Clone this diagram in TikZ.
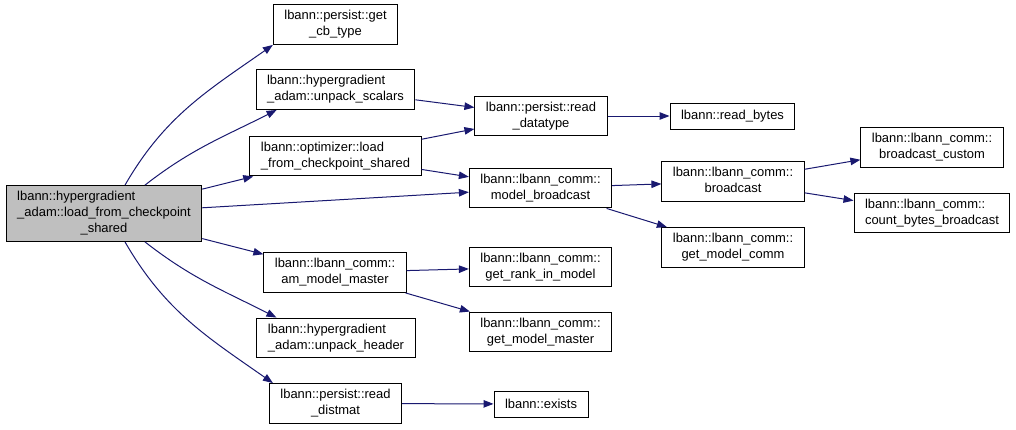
\documentclass[tikz,border=0pt]{standalone}
\usepackage{fontspec}
\setmainfont{Liberation Sans}
\usepackage{xcolor}
\usepackage{tikz}
\usetikzlibrary{arrows.meta}

\definecolor{edgeblue}{RGB}{25,25,112}
\definecolor{mainfill}{RGB}{191,191,191}
% left-aligned lines, last line centred
\newcommand{\fnlabel}[2]{\begin{tabular}{@{}l@{}}#1\\\multicolumn{1}{@{}c@{}}{#2}\end{tabular}}

\begin{document}
\begin{tikzpicture}[
    x=1bp, y=-1bp,
    fnbox/.style={draw, fill=white, line width=1bp, inner xsep=11bp, inner ysep=4bp,
                  minimum height=26bp, font=\fontsize{13}{16}\selectfont},
    mainbox/.style={fnbox, fill=mainfill},
    edge/.style={-{Triangle[length=10bp,width=7.5bp]}, draw=edgeblue, line width=1bp}
    ]
    \useasboundingbox (0,0) rectangle (1016,429);

    \node[mainbox] (main) at (104,213.5)
        {\fnlabel{lbann::hypergradient\\\_adam::load\_from\_checkpoint}{\_shared}};

    \node[fnbox] (getcb)   at (335.5,24.5) {\fnlabel{lbann::persist::get}{\_cb\_type}};
    \node[fnbox] (unpscal) at (335.5,89.5) {\fnlabel{lbann::hypergradient}{\_adam::unpack\_scalars}};
    \node[fnbox] (optload) at (335.5,156)  {\fnlabel{lbann::optimizer::load}{\_from\_checkpoint\_shared}};
    \node[fnbox] (ammaster) at (335,272.5) {\fnlabel{lbann::lbann\_comm::}{am\_model\_master}};
    \node[fnbox] (unphead) at (336,338)    {\fnlabel{lbann::hypergradient}{\_adam::unpack\_header}};
    \node[fnbox] (rdistmat) at (335.5,403.5) {\fnlabel{lbann::persist::read}{\_distmat}};

    \node[fnbox] (rdtype)  at (541,116)    {\fnlabel{lbann::persist::read}{\_datatype}};
    \node[fnbox] (mbcast)  at (540.5,188)  {\fnlabel{lbann::lbann\_comm::}{model\_broadcast}};
    \node[fnbox] (getrank) at (540.5,267)  {\fnlabel{lbann::lbann\_comm::}{get\_rank\_in\_model}};
    \node[fnbox] (getmaster) at (540.5,332) {\fnlabel{lbann::lbann\_comm::}{get\_model\_master}};
    \node[fnbox] (exists)  at (541,404)    {lbann::exists};

    \node[fnbox] (rbytes)  at (732.5,116)  {lbann::read\_bytes};
    \node[fnbox] (bcast)   at (733,181.5)  {\fnlabel{lbann::lbann\_comm::}{broadcast}};
    \node[fnbox] (getcomm) at (733,247.5)  {\fnlabel{lbann::lbann\_comm::}{get\_model\_comm}};

    \node[fnbox] (bcustom) at (932,147.5)  {\fnlabel{lbann::lbann\_comm::}{broadcast\_custom}};
    \node[fnbox] (cbytes)  at (932,213)    {\fnlabel{lbann::lbann\_comm::}{count\_bytes\_broadcast}};

    % calls from the selected function
    \draw[edge] ([xshift=21bp]main.north) to[out=60, in=215] (getcb.south west);
    \draw[edge] ([xshift=41bp]main.north) to[out=38, in=207] ([xshift=21bp]unpscal.south west);
    \draw[edge] (main) -- (optload);
    \draw[edge] (main) -- (mbcast);
    \draw[edge] (main) -- (ammaster);
    \draw[edge] ([xshift=41bp]main.south) to[out=-38, in=153] ([xshift=20bp]unphead.north west);
    \draw[edge] ([xshift=21bp]main.south) to[out=-60, in=145] ([xshift=4bp]rdistmat.north west);

    \draw[edge] (unpscal) -- (rdtype);
    \draw[edge] (optload) -- (rdtype);
    \draw[edge] (optload) -- (mbcast);
    \draw[edge] (ammaster) -- (getrank);
    \draw[edge] (ammaster) -- (getmaster);
    \draw[edge] (rdistmat) -- (exists);

    \draw[edge] (rdtype) -- (rbytes);
    \draw[edge] (mbcast) -- (bcast);
    \draw[edge] (mbcast) -- (getcomm);
    \draw[edge] (bcast) -- (bcustom);
    \draw[edge] (bcast) -- (cbytes);
\end{tikzpicture}
\end{document}
